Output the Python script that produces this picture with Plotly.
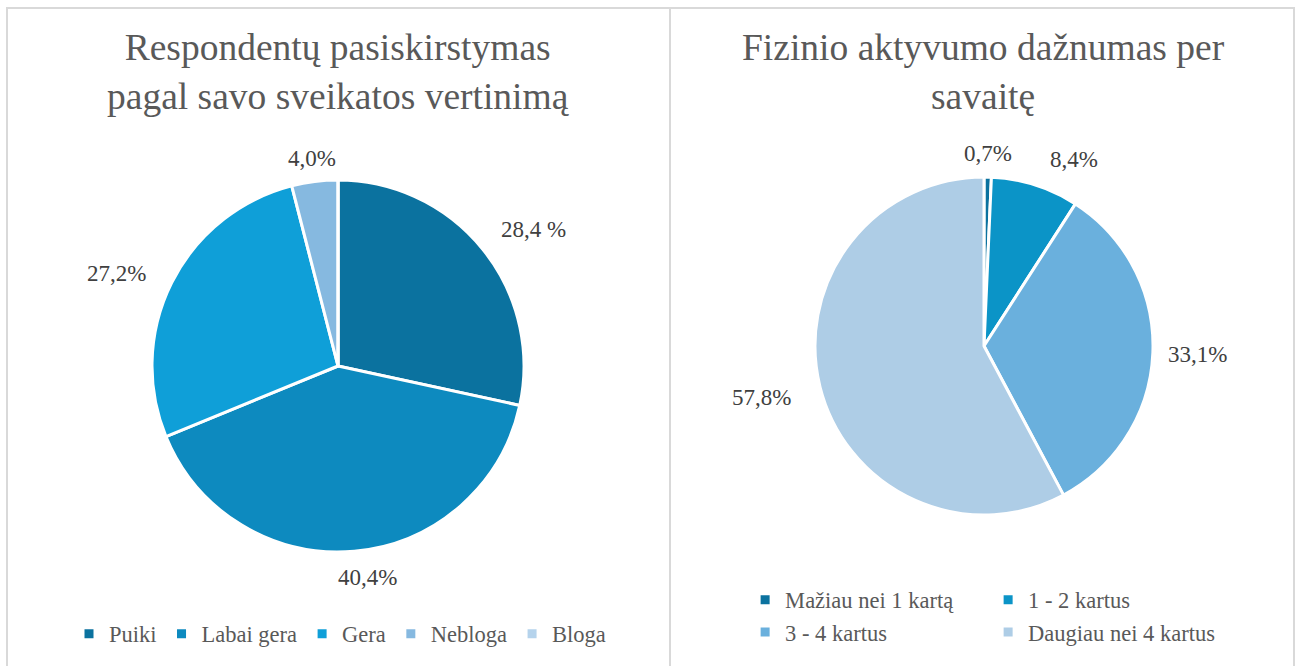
import math
import plotly.graph_objects as go

W, H = 1304, 666
MR = 73             # right margin: plot area spans 0..1231 px
GW = W - MR

# ---- data ----
health_labels = ["Puiki", "Labai gera", "Gera", "Nebloga", "Bloga"]
health_values = [28.4, 40.4, 27.2, 4.0, 0.0]
health_text = ["28,4 %", "40,4%", "27,2%", "4,0%", ""]

activity_labels = ["Mažiau nei 1 kartą", "1 - 2 kartus", "3 - 4 kartus", "Daugiau nei 4 kartus"]
activity_values = [0.7, 8.4, 33.1, 57.8]
activity_text = ["0,7%", "8,4%", "33,1%", "57,8%"]

title_left = "Respondentų pasiskirstymas<br>pagal savo sveikatos vertinimą"
title_right = "Fizinio aktyvumo dažnumas per<br>savaitę"

# ---- styles ----
health_colors = ["#0b729f", "#0d8abf", "#0f9fd8", "#86b9e0", "#b5d3ec"]
activity_colors = ["#0b729f", "#0b94c7", "#6ab0dd", "#aecde6"]
FONT = "Liberation Serif"

# pie geometry (pixels)
L_C, L_R = (338, 366), 186
R_C, R_R = (984, 346), 169
# label placement (pixel radius, angle tweak in degrees)
L_LAB_R = [238, 214, 240, 209, 0]
L_LAB_DA = [4, -3, -4, 0, 0]
R_LAB_R = [193, 207, 214, 228]
R_LAB_DA = [0, 8, 0, 1]


def px(x):
    return x / GW


def py(y):
    return 1 - y / H


def domain(c, r):
    cx, cy = c
    return dict(x=[px(cx - r), px(cx + r)], y=[py(cy + r), py(cy - r)])


def label_annots(values, texts, c, radii, dang):
    tot = sum(values)
    cum = 0
    out = []
    for v, t, rr, da in zip(values, texts, radii, dang):
        mid = (cum + v / 2) / tot * 360 + da
        cum += v
        if not t:
            continue
        x = c[0] + rr * math.sin(math.radians(mid))
        y = c[1] - rr * math.cos(math.radians(mid))
        out.append(dict(x=px(x), y=py(y), xref="paper", yref="paper", text=t,
                        showarrow=False, xanchor="center", yanchor="middle",
                        font=dict(family=FONT, size=23, color="#404040")))
    return out


fig = go.Figure()
fig.add_trace(go.Pie(labels=health_labels, values=health_values, sort=False,
                     direction="clockwise", rotation=0, textinfo="none", hoverinfo="label+percent",
                     marker=dict(colors=health_colors, line=dict(color="white", width=3)),
                     domain=domain(L_C, L_R), legend="legend", showlegend=True))
fig.add_trace(go.Pie(labels=activity_labels, values=activity_values, sort=False,
                     direction="clockwise", rotation=0, textinfo="none", hoverinfo="label+percent",
                     marker=dict(colors=activity_colors, line=dict(color="white", width=3)),
                     domain=domain(R_C, R_R), legend="legend2", showlegend=True))

annots = []
annots += label_annots(health_values, health_text, L_C, L_LAB_R, L_LAB_DA)
annots += label_annots(activity_values, activity_text, R_C, R_LAB_R, R_LAB_DA)
annots.append(dict(x=px(338), y=py(72), xref="paper", yref="paper", text=title_left,
                   showarrow=False, xanchor="center", yanchor="middle",
                   font=dict(family=FONT, size=37.5, color="#595959")))
annots.append(dict(x=px(983), y=py(72), xref="paper", yref="paper", text=title_right,
                   showarrow=False, xanchor="center", yanchor="middle",
                   font=dict(family=FONT, size=37.5, color="#595959")))

border = dict(color="#d9d9d9", width=2)
shapes = [
    dict(type="line", xref="paper", yref="paper", x0=px(6), x1=px(1295), y0=py(8), y1=py(8), line=border),
    dict(type="line", xref="paper", yref="paper", x0=px(7), x1=px(7), y0=py(8), y1=0, line=border),
    dict(type="line", xref="paper", yref="paper", x0=px(670), x1=px(670), y0=py(8), y1=0, line=border),
    dict(type="line", xref="paper", yref="paper", x0=px(1294), x1=px(1294), y0=py(8), y1=0, line=border),
]

fig.update_layout(
    width=W, height=H,
    margin=dict(l=0, r=MR, t=0, b=0, autoexpand=False),
    paper_bgcolor="white", plot_bgcolor="white",
    annotations=annots, shapes=shapes,
    legend=dict(orientation="h", x=px(69), y=py(634), xanchor="left", yanchor="middle",
                font=dict(family=FONT, size=22.5, color="#595959"), itemwidth=30,
                bgcolor="rgba(0,0,0,0)", traceorder="normal"),
    legend2=dict(orientation="h", x=1.0001, y=py(616), xanchor="right", yanchor="middle",
                 font=dict(family=FONT, size=22.5, color="#595959"), itemwidth=30,
                 entrywidth=198, bgcolor="rgba(0,0,0,0)", traceorder="normal"),
)

fig.write_html("out.html", config={"displayModeBar": False},
               post_script="document.body.style.margin='0px';")
